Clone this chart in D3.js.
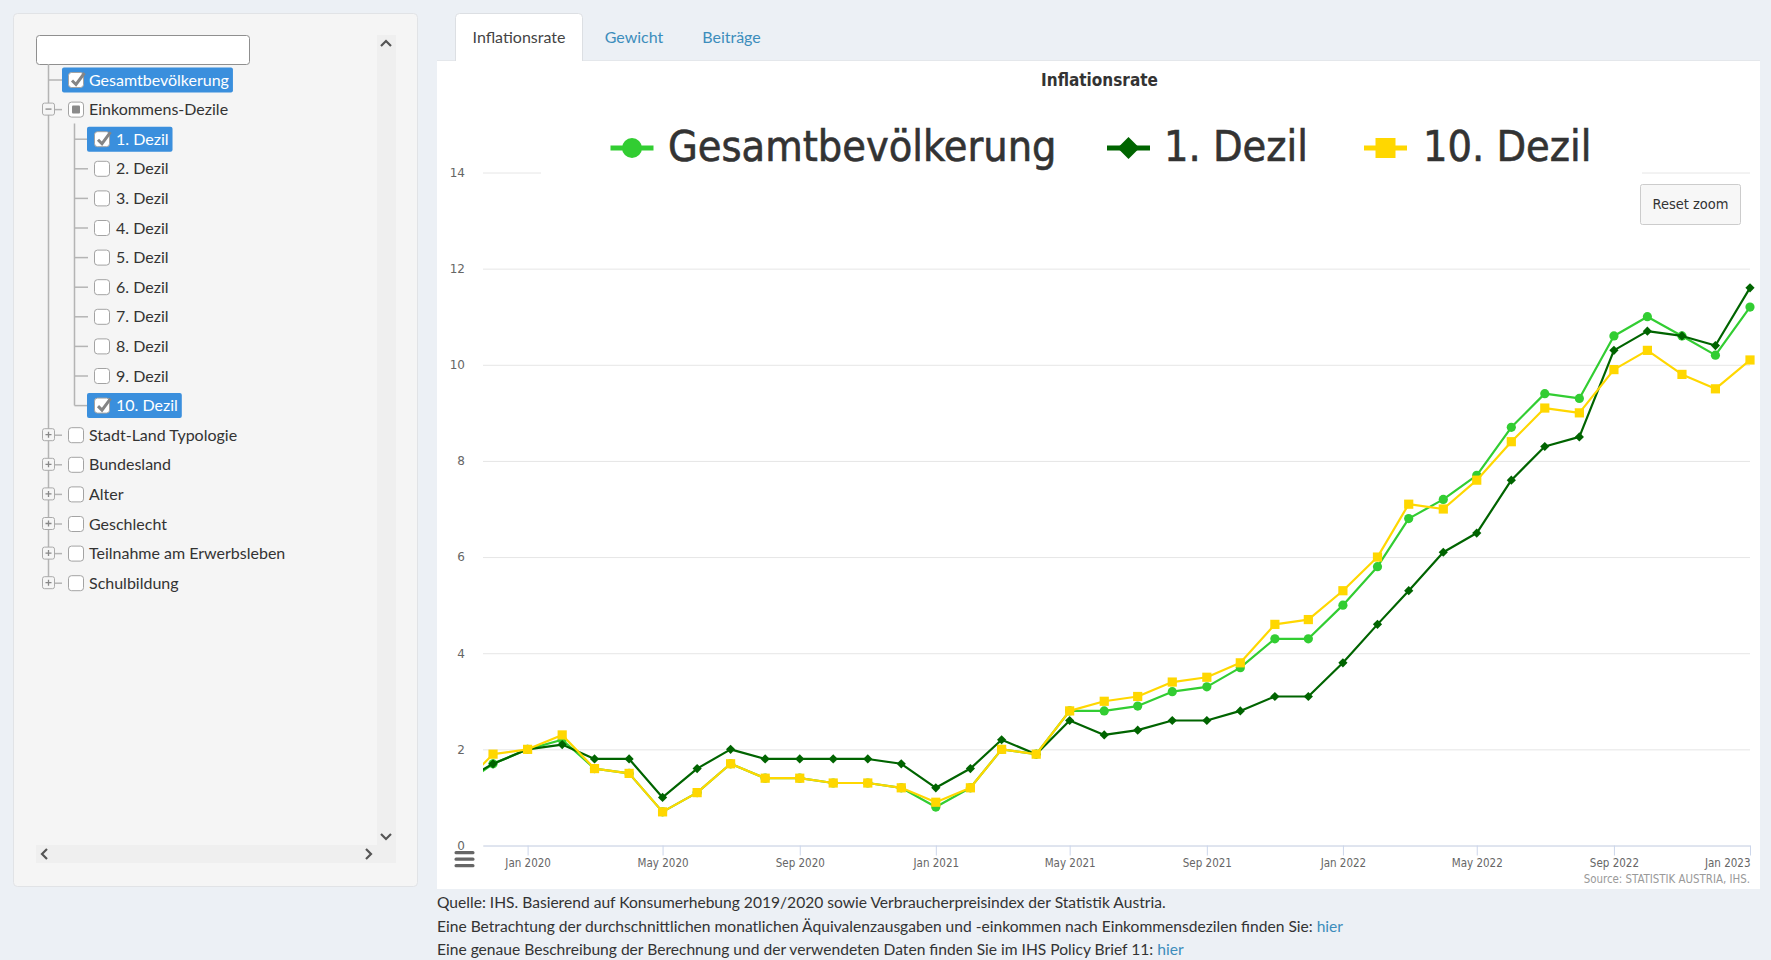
<!DOCTYPE html>
<html>
<head>
<meta charset="utf-8">
<script src="https://cdn.jsdelivr.net/npm/d3@7"></script>
<style>
  body { margin: 0; background: #ecf0f5; }
  svg { display: block; }
</style>
</head>
<body>
<script>
// ---- data ----
const months = ["2019-11", "2019-12",
  "2020-01", "2020-02", "2020-03", "2020-04", "2020-05", "2020-06", "2020-07", "2020-08", "2020-09", "2020-10", "2020-11", "2020-12",
  "2021-01", "2021-02", "2021-03", "2021-04", "2021-05", "2021-06", "2021-07", "2021-08", "2021-09", "2021-10", "2021-11", "2021-12",
  "2022-01", "2022-02", "2022-03", "2022-04", "2022-05", "2022-06", "2022-07", "2022-08", "2022-09", "2022-10", "2022-11", "2022-12",
  "2023-01"];
const gesamt  = [1.2, 1.7, 2.0, 2.2, 1.6, 1.5, 0.7, 1.1, 1.7, 1.4, 1.4, 1.3, 1.3, 1.2, 0.8, 1.2, 2.0, 1.9, 2.8, 2.8, 2.9, 3.2, 3.3, 3.7, 4.3, 4.3, 5.0, 5.8, 6.8, 7.2, 7.7, 8.7, 9.4, 9.3, 10.6, 11.0, 10.6, 10.2, 11.2];
const dezil1  = [1.3, 1.7, 2.0, 2.1, 1.8, 1.8, 1.0, 1.6, 2.0, 1.8, 1.8, 1.8, 1.8, 1.7, 1.2, 1.6, 2.2, 1.9, 2.6, 2.3, 2.4, 2.6, 2.6, 2.8, 3.1, 3.1, 3.8, 4.6, 5.3, 6.1, 6.5, 7.6, 8.3, 8.5, 10.3, 10.7, 10.6, 10.4, 11.6];
const dezil10 = [1.2, 1.9, 2.0, 2.3, 1.6, 1.5, 0.7, 1.1, 1.7, 1.4, 1.4, 1.3, 1.3, 1.2, 0.9, 1.2, 2.0, 1.9, 2.8, 3.0, 3.1, 3.4, 3.5, 3.8, 4.6, 4.7, 5.3, 6.0, 7.1, 7.0, 7.6, 8.4, 9.1, 9.0, 9.9, 10.3, 9.8, 9.5, 10.1];

const seriesNames = ["Gesamtbevölkerung", "1. Dezil", "10. Dezil"];
const yTicks = [0, 2, 4, 6, 8, 10, 12, 14];
const xTickMonths = ["2020-01", "2020-05", "2020-09", "2021-01", "2021-05", "2021-09", "2022-01", "2022-05", "2022-09", "2023-01"];
const xTickLabels = ["Jan 2020", "May 2020", "Sep 2020", "Jan 2021", "May 2021", "Sep 2021", "Jan 2022", "May 2022", "Sep 2022", "Jan 2023"];

const tabs = ["Inflationsrate", "Gewicht", "Beiträge"];

// check: on / off / part, toggle: minus / plus / null
const treeRows = [
  { label: "Gesamtbevölkerung", depth: 0, check: "on", toggle: null, selected: true },
  { label: "Einkommens-Dezile", depth: 0, check: "part", toggle: "minus", selected: false },
  { label: "1. Dezil", depth: 1, check: "on", toggle: null, selected: true },
  { label: "2. Dezil", depth: 1, check: "off", toggle: null, selected: false },
  { label: "3. Dezil", depth: 1, check: "off", toggle: null, selected: false },
  { label: "4. Dezil", depth: 1, check: "off", toggle: null, selected: false },
  { label: "5. Dezil", depth: 1, check: "off", toggle: null, selected: false },
  { label: "6. Dezil", depth: 1, check: "off", toggle: null, selected: false },
  { label: "7. Dezil", depth: 1, check: "off", toggle: null, selected: false },
  { label: "8. Dezil", depth: 1, check: "off", toggle: null, selected: false },
  { label: "9. Dezil", depth: 1, check: "off", toggle: null, selected: false },
  { label: "10. Dezil", depth: 1, check: "on", toggle: null, selected: true },
  { label: "Stadt-Land Typologie", depth: 0, check: "off", toggle: "plus", selected: false },
  { label: "Bundesland", depth: 0, check: "off", toggle: "plus", selected: false },
  { label: "Alter", depth: 0, check: "off", toggle: "plus", selected: false },
  { label: "Geschlecht", depth: 0, check: "off", toggle: "plus", selected: false },
  { label: "Teilnahme am Erwerbsleben", depth: 0, check: "off", toggle: "plus", selected: false },
  { label: "Schulbildung", depth: 0, check: "off", toggle: "plus", selected: false }
];

const footer = [
  ["Quelle: IHS. Basierend auf Konsumerhebung 2019/2020 sowie Verbraucherpreisindex der Statistik Austria.", ""],
  ["Eine Betrachtung der durchschnittlichen monatlichen Äquivalenzausgaben und -einkommen nach Einkommensdezilen finden Sie: ", "hier"],
  ["Eine genaue Beschreibung der Berechnung und der verwendeten Daten finden Sie im IHS Policy Brief 11: ", "hier"]
];

// ---- page ----
const W = 1771, H = 960;
const pageFont = "Lato, 'Noto Sans', sans-serif";
const chartFont = "'DejaVu Sans Condensed', 'DejaVu Sans', sans-serif";
const linkColor = "#3c8dbc";

const svg = d3.select("body").append("svg")
    .attr("width", W)
    .attr("height", H);

svg.append("rect").attr("width", W).attr("height", H).attr("fill", "#ecf0f5");

// ---- left panel with tree ----
const panel = svg.append("g");
panel.append("rect")
    .attr("x", 13.5).attr("y", 13.5).attr("width", 404).attr("height", 873).attr("rx", 4)
    .attr("fill", "#f5f5f5").attr("stroke", "#e1e3e6");

// scrollbars
panel.append("rect").attr("x", 377).attr("y", 35).attr("width", 19).attr("height", 828).attr("fill", "#efefef");
panel.append("rect").attr("x", 36).attr("y", 845).attr("width", 341).attr("height", 18).attr("fill", "#efefef");
const arrows = ["M381,46L386,41L391,46", "M381,834L386,839L391,834", "M47,849L42,854L47,859", "M366,849L371,854L366,859"];
panel.selectAll("path.arrow").data(arrows).enter().append("path")
    .attr("class", "arrow")
    .attr("d", d => d)
    .attr("fill", "none").attr("stroke", "#555").attr("stroke-width", 2.2);

// search box
panel.append("rect")
    .attr("x", 36.5).attr("y", 35.5).attr("width", 213).attr("height", 29).attr("rx", 3)
    .attr("fill", "#fff").attr("stroke", "#8f8f8f");

const rowY = i => 80 + i * 29.6;
const lastTop = treeRows.length - 1;
const lastChild = treeRows.map(r => r.depth).lastIndexOf(1);

// tree lines
const lineColor = "#b4b4b4";
panel.append("line").attr("x1", 48.5).attr("x2", 48.5).attr("y1", 64).attr("y2", rowY(lastTop) - 6)
    .attr("stroke", lineColor).attr("stroke-width", 1.5);
panel.append("line").attr("x1", 74.5).attr("x2", 74.5).attr("y1", rowY(1) + 14).attr("y2", rowY(lastChild))
    .attr("stroke", lineColor).attr("stroke-width", 1.5);

const rows = panel.selectAll("g.row")
    .data(treeRows)
    .enter()
    .append("g")
    .attr("class", "row")
    .attr("transform", (d, i) => "translate(0," + rowY(i) + ")");

rows.append("line")
    .attr("x1", d => d.depth === 0 ? 48.5 : 74.5)
    .attr("x2", d => d.depth === 0 ? 62 : 88)
    .attr("stroke", lineColor).attr("stroke-width", 1.5);

const toggles = rows.filter(d => d.toggle);
toggles.append("rect")
    .attr("x", 42.5).attr("y", -6.5).attr("width", 12).attr("height", 12).attr("rx", 2)
    .attr("fill", "#f5f5f5").attr("stroke", "#aaa");
toggles.append("path")
    .attr("d", d => d.toggle === "plus" ? "M45.5,-0.5H51.5M48.5,-3.5V2.5" : "M45.5,-0.5H51.5")
    .attr("stroke", "#888").attr("stroke-width", 1.3);

const labels = rows.append("text")
    .attr("x", d => d.depth === 0 ? 89 : 116)
    .attr("y", 5.5)
    .attr("font-family", pageFont)
    .attr("font-size", 16)
    .attr("fill", d => d.selected ? "#fff" : "#333")
    .text(d => d.label);

// highlight behind selected rows
labels.each(function (d) {
    if (!d.selected) return;
    const x0 = d.depth === 0 ? 62 : 87;
    const len = this.getComputedTextLength();
    d3.select(this.parentNode).insert("rect", "text")
        .attr("x", x0).attr("y", -12.5)
        .attr("width", (d.depth === 0 ? 89 : 116) + len + 4 - x0).attr("height", 25)
        .attr("rx", 2)
        .attr("fill", "#3a8fdd");
});

rows.append("rect")
    .attr("x", d => d.depth === 0 ? 68.5 : 94.5)
    .attr("y", -7.5).attr("width", 15).attr("height", 15).attr("rx", 3)
    .attr("fill", "#fff").attr("stroke", "#a3a3a3");
rows.filter(d => d.check === "part").append("rect")
    .attr("x", 72).attr("y", -4).attr("width", 8).attr("height", 8).attr("rx", 1)
    .attr("fill", "#8a8a8a");
rows.filter(d => d.check === "on").append("path")
    .attr("d", d => {
        const bx = d.depth === 0 ? 68.5 : 94.5;
        return "M" + (bx + 3.5) + ",0.5L" + (bx + 7.5) + ",4.5L" + (bx + 16) + ",-7";
    })
    .attr("fill", "none").attr("stroke", "#858585").attr("stroke-width", 3);

// ---- tabs ----
svg.append("rect")
    .attr("x", 437).attr("y", 61).attr("width", 1323).attr("height", 828)
    .attr("fill", "#fff");
svg.append("path")
    .attr("d", "M455.5,61V17.5Q455.5,13.5 459.5,13.5H578.5Q582.5,13.5 582.5,17.5V61")
    .attr("fill", "#fff").attr("stroke", "#dcdfe3");
svg.append("line").attr("x1", 437).attr("x2", 455).attr("y1", 60.5).attr("y2", 60.5).attr("stroke", "#e4e7eb");
svg.append("line").attr("x1", 583).attr("x2", 1760).attr("y1", 60.5).attr("y2", 60.5).attr("stroke", "#e4e7eb");

const tabX = [519, 634, 731.5];
svg.selectAll("text.tab")
    .data(tabs)
    .enter()
    .append("text")
    .attr("class", "tab")
    .attr("x", (d, i) => tabX[i])
    .attr("y", 42.5)
    .attr("text-anchor", "middle")
    .attr("font-family", pageFont)
    .attr("font-size", 16)
    .attr("fill", (d, i) => i === 0 ? "#444" : linkColor)
    .text(d => d);

// ---- chart ----
const parseMonth = d3.timeParse("%Y-%m");
const dates = months.map(parseMonth);
const plotLeft = 483, plotRight = 1750, plotTop = 172.5, plotBottom = 845.5;

const x = d3.scaleTime()
    .domain([new Date(2019, 10, 22), new Date(2023, 0, 1)])
    .range([plotLeft, plotRight]);
const y = d3.scaleLinear()
    .domain([0, 14])
    .range([plotBottom, plotTop]);

const chart = svg.append("g");

chart.append("text")
    .attr("x", 1099.5).attr("y", 86)
    .attr("text-anchor", "middle")
    .attr("font-family", chartFont)
    .attr("font-weight", "bold")
    .attr("font-size", 17)
    .attr("fill", "#333")
    .text("Inflationsrate");

// y axis + grid
const yAxis = chart.append("g")
    .attr("transform", "translate(" + plotLeft + ",0)")
    .call(d3.axisLeft(y).tickValues(yTicks).tickSize(-(plotRight - plotLeft)).tickPadding(18));
yAxis.select(".domain").remove();
yAxis.selectAll("line").attr("stroke", "#e6e6e6");
yAxis.selectAll("text")
    .attr("font-family", "'DejaVu Sans', sans-serif")
    .attr("font-size", 12)
    .attr("fill", "#666");

// x axis
const xAxis = chart.append("g")
    .attr("transform", "translate(0," + plotBottom + ")")
    .call(d3.axisBottom(x)
        .tickValues(xTickMonths.map(parseMonth))
        .tickFormat((d, i) => xTickLabels[i])
        .tickSize(10)
        .tickSizeOuter(0)
        .tickPadding(3.5));
xAxis.select(".domain").attr("stroke", "#ccd6eb");
xAxis.selectAll("line").attr("stroke", "#ccd6eb");
xAxis.selectAll("text")
    .attr("font-family", chartFont)
    .attr("font-size", 11.5)
    .attr("fill", "#666")
    .attr("text-anchor", (d, i) => i === xTickLabels.length - 1 ? "end" : "middle");

// series
const series = [
    { name: seriesNames[0], values: gesamt, color: "#32cd32", symbol: "circle" },
    { name: seriesNames[1], values: dezil1, color: "#006400", symbol: "diamond" },
    { name: seriesNames[2], values: dezil10, color: "#ffd700", symbol: "square" }
];

svg.append("defs").append("clipPath").attr("id", "plot-clip")
    .append("rect")
    .attr("x", plotLeft).attr("y", 100)
    .attr("width", plotRight - plotLeft).attr("height", plotBottom - 100 + 10);

const markerPath = (symbol, r) => {
    if (symbol === "diamond") return "M0," + (-r) + "L" + r + ",0L0," + r + "L" + (-r) + ",0Z";
    if (symbol === "square") return "M" + (-r) + "," + (-r) + "H" + r + "V" + r + "H" + (-r) + "Z";
    return d3.symbol(d3.symbolCircle, Math.PI * r * r)();
};

const line = d3.line()
    .x((d, i) => x(dates[i]))
    .y(d => y(d));

const sg = chart.selectAll("g.series")
    .data(series)
    .enter()
    .append("g")
    .attr("class", "series");

sg.append("path")
    .attr("d", d => line(d.values))
    .attr("clip-path", "url(#plot-clip)")
    .attr("fill", "none")
    .attr("stroke", d => d.color)
    .attr("stroke-width", 2.2)
    .attr("stroke-linejoin", "round");

sg.each(function (s) {
    const pts = s.values.map((v, i) => ({ v: v, date: dates[i] }))
        .filter(p => x(p.date) >= plotLeft && x(p.date) <= plotRight + 1);
    d3.select(this).selectAll("path.marker")
        .data(pts)
        .enter()
        .append("path")
        .attr("class", "marker")
        .attr("transform", p => "translate(" + x(p.date) + "," + y(p.v) + ")")
        .attr("d", markerPath(s.symbol, 4.6))
        .attr("fill", s.color);
});

// legend
const legend = chart.append("g");
legend.append("rect")
    .attr("x", 541).attr("y", 105).attr("width", 1101).attr("height", 82)
    .attr("fill", "#fff");
const legendSym = [632, 1128.5, 1385.5];
const legendText = [668, 1164, 1423];
const li = legend.selectAll("g.item")
    .data(series)
    .enter()
    .append("g")
    .attr("class", "item");
li.append("line")
    .attr("x1", (d, i) => legendSym[i] - 21.5)
    .attr("x2", (d, i) => legendSym[i] + 21.5)
    .attr("y1", 148).attr("y2", 148)
    .attr("stroke", d => d.color)
    .attr("stroke-width", 5);
li.append("path")
    .attr("transform", (d, i) => "translate(" + legendSym[i] + ",148)")
    .attr("d", d => markerPath(d.symbol, d.symbol === "diamond" ? 11 : 10))
    .attr("fill", d => d.color);
li.append("text")
    .attr("x", (d, i) => legendText[i])
    .attr("y", 161)
    .attr("font-family", chartFont)
    .attr("font-size", 42.8)
    .attr("fill", "#333")
    .attr("stroke", "#333")
    .attr("stroke-width", 0.6)
    .text(d => d.name);

// reset zoom button
chart.append("rect")
    .attr("x", 1640.5).attr("y", 184.5).attr("width", 100).attr("height", 40).attr("rx", 2)
    .attr("fill", "#f7f7f7").attr("stroke", "#cccccc");
chart.append("text")
    .attr("x", 1690.5).attr("y", 209)
    .attr("text-anchor", "middle")
    .attr("font-family", chartFont)
    .attr("font-size", 14.5)
    .attr("fill", "#333")
    .text("Reset zoom");

// export menu icon
chart.selectAll("rect.menu")
    .data([851, 857.5, 864])
    .enter()
    .append("rect")
    .attr("class", "menu")
    .attr("x", 454.5).attr("y", d => d)
    .attr("width", 20).attr("height", 3.2).attr("rx", 1.5)
    .attr("fill", "#666");

// credits
chart.append("text")
    .attr("x", plotRight).attr("y", 883)
    .attr("text-anchor", "end")
    .attr("font-family", chartFont)
    .attr("font-size", 11.4)
    .attr("fill", "#999")
    .text("Source: STATISTIK AUSTRIA, IHS.");

// ---- footer ----
const ft = svg.selectAll("text.footer")
    .data(footer)
    .enter()
    .append("text")
    .attr("class", "footer")
    .attr("x", 437)
    .attr("y", (d, i) => 908 + i * 23.5)
    .attr("font-family", pageFont)
    .attr("font-size", 15.6)
    .attr("fill", "#333");
ft.append("tspan").text(d => d[0]);
ft.append("tspan").attr("fill", linkColor).text(d => d[1]);
</script>
</body>
</html>
